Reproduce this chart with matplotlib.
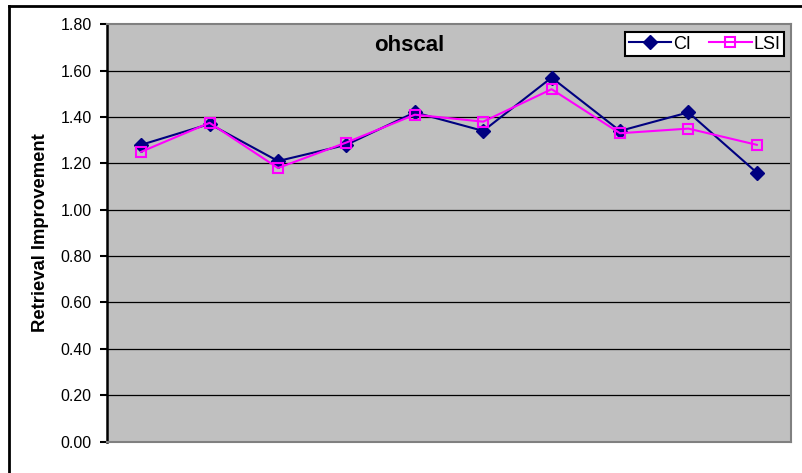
import matplotlib
matplotlib.use("Agg")
import matplotlib.pyplot as plt
from matplotlib.lines import Line2D

plt.rcParams['font.family'] = ['Liberation Sans', 'DejaVu Sans']

# Data
categories = list(range(1, 11))
ci_values = [1.28, 1.37, 1.21, 1.28, 1.42, 1.34, 1.57, 1.34, 1.42, 1.16]
lsi_values = [1.25, 1.375, 1.18, 1.29, 1.41, 1.38, 1.52, 1.33, 1.35, 1.28]
y_ticks = [0.0, 0.2, 0.4, 0.6, 0.8, 1.0, 1.2, 1.4, 1.6, 1.8]
y_tick_labels = [f"{v:.2f}" for v in y_ticks]

W, H = 802, 473
fig = plt.figure(figsize=(W / 100, H / 100), dpi=100)
fig.patch.set_facecolor('white')

# outer chart border (left and top edges fall inside the canvas)
fig.add_artist(Line2D([9 / W, 9 / W], [0, 1 - 6 / H], transform=fig.transFigure,
                      color='black', lw=2))
fig.add_artist(Line2D([9 / W, 1], [1 - 6 / H, 1 - 6 / H], transform=fig.transFigure,
                      color='black', lw=2))

left, right = 107 / W, 791 / W
bottom, top = 1 - 441.5 / H, 1 - 24.3 / H
ax = fig.add_axes([left, bottom, right - left, top - bottom])
ax.set_facecolor('#C0C0C0')

x = [c - 0.5 for c in categories]
ax.set_xlim(0, len(categories))
ax.set_ylim(0, 1.8)

for v in y_ticks[1:-1]:
    ax.axhline(v, color='black', lw=0.9, zorder=1)

ax.plot(x, ci_values, color='#000080', lw=1.5, marker='D', markersize=7.5,
        markerfacecolor='#000080', markeredgecolor='#000080', zorder=3, label='CI')
ax.plot(x, lsi_values, color='#FF00FF', lw=1.5, marker='s', markersize=7,
        markerfacecolor='none', markeredgecolor='#FF00FF', markeredgewidth=1.5,
        zorder=4, label='LSI')

ax.set_yticks(y_ticks)
ax.set_yticklabels(y_tick_labels, fontsize=11.5)
ax.set_xticks([])
ax.tick_params(axis='y', direction='out', length=5, width=1.5, pad=6, colors='black')

for side in ['top', 'right', 'bottom']:
    ax.spines[side].set_color('#808080')
    ax.spines[side].set_linewidth(1.5)
ax.spines['left'].set_color('black')
ax.spines['left'].set_linewidth(1.8)

fig.text(41 / W, 1 - 233 / H, 'Retrieval Improvement', rotation=90,
         ha='center', va='center', fontsize=13.3, fontweight='bold')

ax.text(0.442, 0.95, 'ohscal', transform=ax.transAxes, ha='center', va='center',
        fontsize=16, fontweight='bold')

leg = ax.legend(loc='upper right', bbox_to_anchor=(0.9898, 0.9815),
                ncol=2, fontsize=13, frameon=True, fancybox=False,
                handlelength=2.35, handletextpad=0.1, columnspacing=1.0,
                borderpad=0.2, borderaxespad=0)
leg.get_frame().set_edgecolor('black')
leg.get_frame().set_linewidth(1.5)
leg.get_frame().set_facecolor('white')
leg.get_frame().set_alpha(1)

fig.savefig('out.png', dpi=100)
